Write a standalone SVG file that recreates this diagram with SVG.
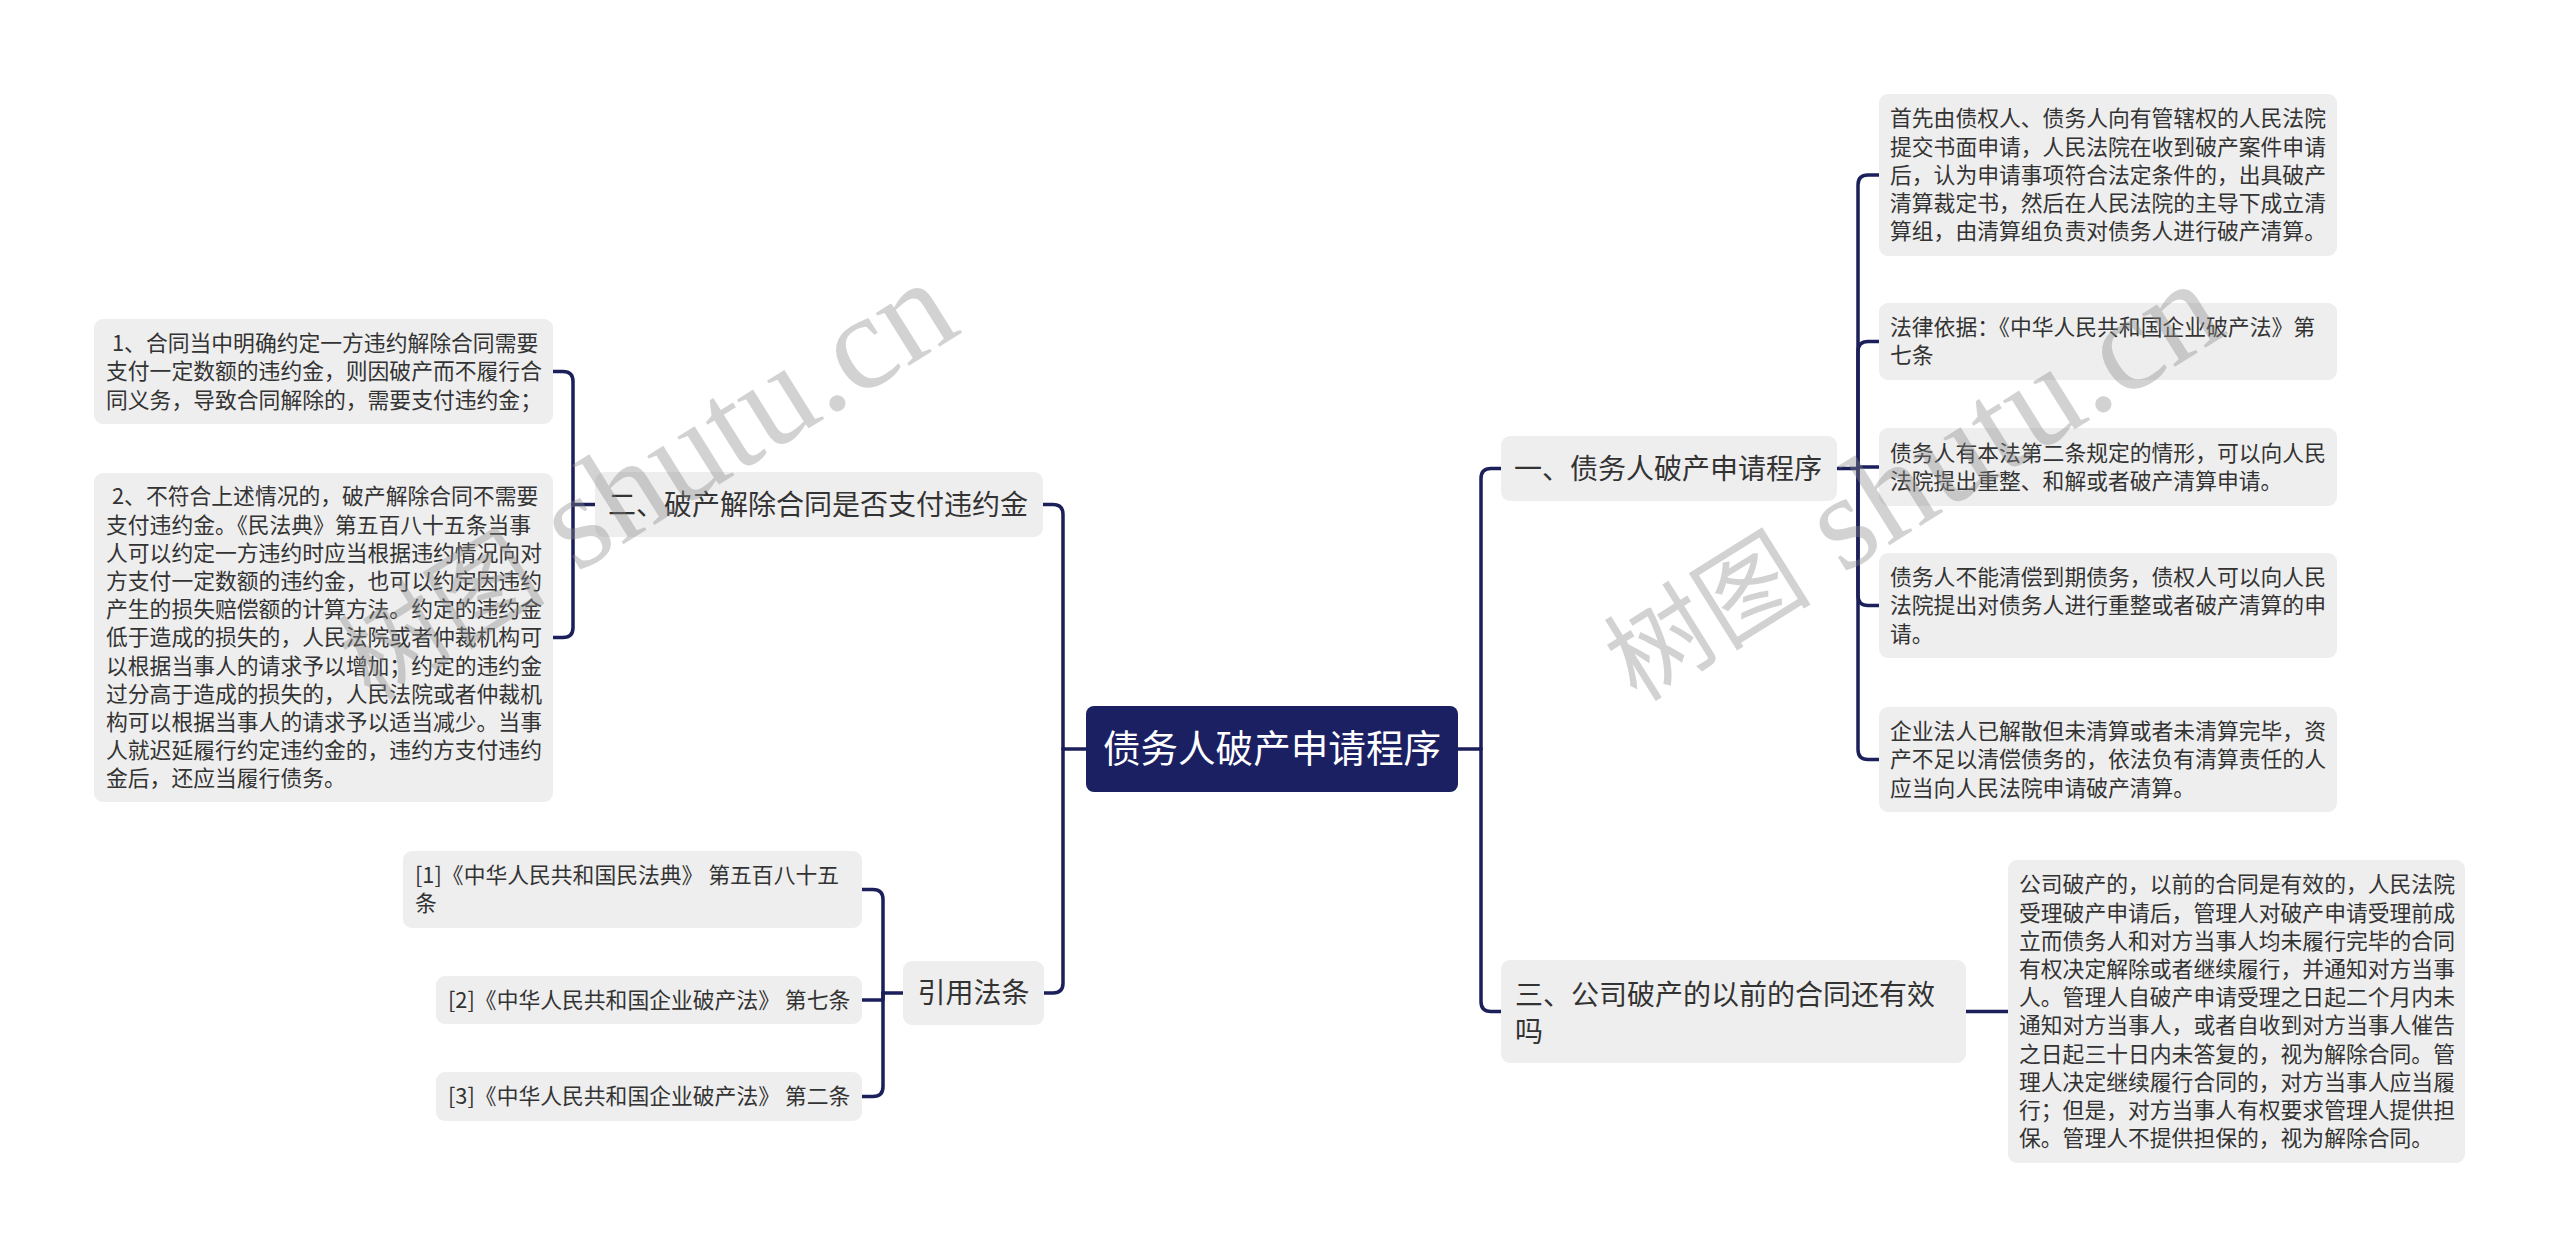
<svg xmlns="http://www.w3.org/2000/svg" width="2560" height="1257" viewBox="0 0 2560 1257">
<style>
.bg{fill:#ffffff}
.box{fill:#eeeeee}
.root{fill:#1b2063}
.conn{fill:none;stroke:#1b1f5a;stroke-width:3.5;stroke-linecap:round;stroke-linejoin:round}
.t1{font-family:"Noto Sans CJK SC","Noto Sans",sans-serif;font-size:28px;fill:#333333}
.t2{font-family:"Noto Sans CJK SC","Noto Sans",sans-serif;font-size:21.8px;fill:#333333}
.tr{font-family:"Noto Sans CJK SC","Noto Sans",sans-serif;font-size:37.6px;fill:#ffffff}
.wm{font-family:"Liberation Serif","Noto Sans CJK SC",serif;font-size:136px;fill:#8a8a8a;fill-opacity:0.38}
.wmc{font-size:104px}
</style>
<rect class="bg" x="0" y="0" width="2560" height="1257"/>

<g id="connectors">
  <path class="conn" d="M1458 749 H1481"/>
  <path class="conn" d="M1481 749 V478.5 Q1481 468.5 1491 468.5 H1501"/>
  <path class="conn" d="M1481 749 V1001.5 Q1481 1011.5 1491 1011.5 H1501"/>
  <path class="conn" d="M1086 749 H1063"/>
  <path class="conn" d="M1063 749 V514.5 Q1063 504.5 1053 504.5 H1043"/>
  <path class="conn" d="M1063 749 V983 Q1063 993 1053 993 H1044"/>
  <path class="conn" d="M1837 468.5 H1858"/>
  <path class="conn" d="M1858 468.5 V185 Q1858 175 1868 175 H1879"/>
  <path class="conn" d="M1858 468.5 V351.5 Q1858 341.5 1868 341.5 H1879"/>
  <path class="conn" d="M1858 468.5 V467 H1879"/>
  <path class="conn" d="M1858 468.5 V595.5 Q1858 605.5 1868 605.5 H1879"/>
  <path class="conn" d="M1858 468.5 V749.5 Q1858 759.5 1868 759.5 H1879"/>
  <path class="conn" d="M1966 1011.5 H2008"/>
  <path class="conn" d="M595 504.5 H573"/>
  <path class="conn" d="M573 504.5 V381.5 Q573 371.5 563 371.5 H553"/>
  <path class="conn" d="M573 504.5 V627.5 Q573 637.5 563 637.5 H553"/>
  <path class="conn" d="M903 993 H883"/>
  <path class="conn" d="M883 993 V899.5 Q883 889.5 873 889.5 H862"/>
  <path class="conn" d="M883 993 V1000 H862"/>
  <path class="conn" d="M883 993 V1086.5 Q883 1096.5 873 1096.5 H862"/>
</g>

<g id="root">
  <rect class="root" x="1086" y="706" width="372" height="86" rx="8"/>
  <text class="tr" x="1272" y="761.5" text-anchor="middle">债务人破产申请程序</text>
</g>

<g id="n-yi">
  <rect class="box" x="1501" y="436" width="336" height="65" rx="9"/>
  <text class="t1" x="1514" y="478.5">一、债务人破产申请程序</text>
</g>

<g id="n-san">
  <rect class="box" x="1501" y="960" width="465" height="103" rx="9"/>
  <text class="t1" x="1515" y="1005">三、公司破产的以前的合同还有效<tspan x="1515" dy="37">吗</tspan></text>
</g>

<g id="n-er">
  <rect class="box" x="595" y="472" width="448" height="65" rx="9"/>
  <text class="t1" x="608" y="514.5">二、破产解除合同是否支付违约金</text>
</g>

<g id="n-yinyong">
  <rect class="box" x="903" y="961" width="141" height="64" rx="9"/>
  <text class="t1" x="973.5" y="1003" text-anchor="middle">引用法条</text>
</g>

<g id="leaf-r1">
  <rect class="box" x="1879" y="94" width="458" height="162" rx="9"/>
  <text class="t2" x="1890" y="126.4">首先由债权人、债务人向有管辖权的人民法院<tspan x="1890" dy="28.2">提交书面申请，人民法院在收到破产案件申请</tspan><tspan x="1890" dy="28.2">后，认为申请事项符合法定条件的，出具破产</tspan><tspan x="1890" dy="28.2">清算裁定书，然后在人民法院的主导下成立清</tspan><tspan x="1890" dy="28.2">算组，由清算组负责对债务人进行破产清算。</tspan></text>
</g>

<g id="leaf-r2">
  <rect class="box" x="1879" y="303" width="458" height="77" rx="9"/>
  <text class="t2" x="1890" y="335.2">法律依据：《中华人民共和国企业破产法》第<tspan x="1890" dy="28.2">七条</tspan></text>
</g>

<g id="leaf-r3">
  <rect class="box" x="1879" y="428" width="458" height="78" rx="9"/>
  <text class="t2" x="1890" y="460.7">债务人有本法第二条规定的情形，可以向人民<tspan x="1890" dy="28.2">法院提出重整、和解或者破产清算申请。</tspan></text>
</g>

<g id="leaf-r4">
  <rect class="box" x="1879" y="553" width="458" height="105" rx="9"/>
  <text class="t2" x="1890" y="585.1">债务人不能清偿到期债务，债权人可以向人民<tspan x="1890" dy="28.2">法院提出对债务人进行重整或者破产清算的申</tspan><tspan x="1890" dy="28.2">请。</tspan></text>
</g>

<g id="leaf-r5">
  <rect class="box" x="1879" y="707" width="458" height="105" rx="9"/>
  <text class="t2" x="1890" y="739.1">企业法人已解散但未清算或者未清算完毕，资<tspan x="1890" dy="28.2">产不足以清偿债务的，依法负有清算责任的人</tspan><tspan x="1890" dy="28.2">应当向人民法院申请破产清算。</tspan></text>
</g>

<g id="leaf-r6">
  <rect class="box" x="2008" y="860" width="457" height="303" rx="9"/>
  <text class="t2" x="2019" y="892.4">公司破产的，以前的合同是有效的，人民法院<tspan x="2019" dy="28.2">受理破产申请后，管理人对破产申请受理前成</tspan><tspan x="2019" dy="28.2">立而债务人和对方当事人均未履行完毕的合同</tspan><tspan x="2019" dy="28.2">有权决定解除或者继续履行，并通知对方当事</tspan><tspan x="2019" dy="28.2">人。管理人自破产申请受理之日起二个月内未</tspan><tspan x="2019" dy="28.2">通知对方当事人，或者自收到对方当事人催告</tspan><tspan x="2019" dy="28.2">之日起三十日内未答复的，视为解除合同。管</tspan><tspan x="2019" dy="28.2">理人决定继续履行合同的，对方当事人应当履</tspan><tspan x="2019" dy="28.2">行；但是，对方当事人有权要求管理人提供担</tspan><tspan x="2019" dy="28.2">保。管理人不提供担保的，视为解除合同。</tspan></text>
</g>

<g id="leaf-l1">
  <rect class="box" x="94" y="319" width="459" height="105" rx="9"/>
  <text class="t2" x="106" y="351.1"><tspan x="112">1、合同当中明确约定一方违约解除合同需要</tspan><tspan x="106" dy="28.2">支付一定数额的违约金，则因破产而不履行合</tspan><tspan x="106" dy="28.2">同义务，导致合同解除的，需要支付违约金；</tspan></text>
</g>

<g id="leaf-l2">
  <rect class="box" x="94" y="473" width="459" height="329" rx="9"/>
  <text class="t2" x="106" y="504.3"><tspan x="112">2、不符合上述情况的，破产解除合同不需要</tspan><tspan x="106" dy="28.2">支付违约金。《民法典》第五百八十五条当事</tspan><tspan x="106" dy="28.2">人可以约定一方违约时应当根据违约情况向对</tspan><tspan x="106" dy="28.2">方支付一定数额的违约金，也可以约定因违约</tspan><tspan x="106" dy="28.2">产生的损失赔偿额的计算方法。约定的违约金</tspan><tspan x="106" dy="28.2">低于造成的损失的，人民法院或者仲裁机构可</tspan><tspan x="106" dy="28.2">以根据当事人的请求予以增加；约定的违约金</tspan><tspan x="106" dy="28.2">过分高于造成的损失的，人民法院或者仲裁机</tspan><tspan x="106" dy="28.2">构可以根据当事人的请求予以适当减少。当事</tspan><tspan x="106" dy="28.2">人就迟延履行约定违约金的，违约方支付违约</tspan><tspan x="106" dy="28.2">金后，还应当履行债务。</tspan></text>
</g>

<g id="leaf-c1">
  <rect class="box" x="403" y="851" width="459" height="77" rx="9"/>
  <text class="t2" x="415" y="883.2">[1]《中华人民共和国民法典》 第五百八十五<tspan x="415" dy="28.2">条</tspan></text>
</g>

<g id="leaf-c2">
  <rect class="box" x="436" y="976" width="426" height="48" rx="9"/>
  <text class="t2" x="448" y="1007.8">[2]《中华人民共和国企业破产法》 第七条</text>
</g>

<g id="leaf-c3">
  <rect class="box" x="436" y="1072" width="426" height="49" rx="9"/>
  <text class="t2" x="448" y="1104.3">[3]《中华人民共和国企业破产法》 第二条</text>
</g>

<g id="watermarks">
  <text class="wm" x="371" y="702" transform="rotate(-32 371 702)"><tspan class="wmc">树图</tspan> shutu.cn</text>
  <text class="wm" x="1637" y="703" transform="rotate(-32 1637 703)"><tspan class="wmc">树图</tspan> shutu.cn</text>
</g>
</svg>
